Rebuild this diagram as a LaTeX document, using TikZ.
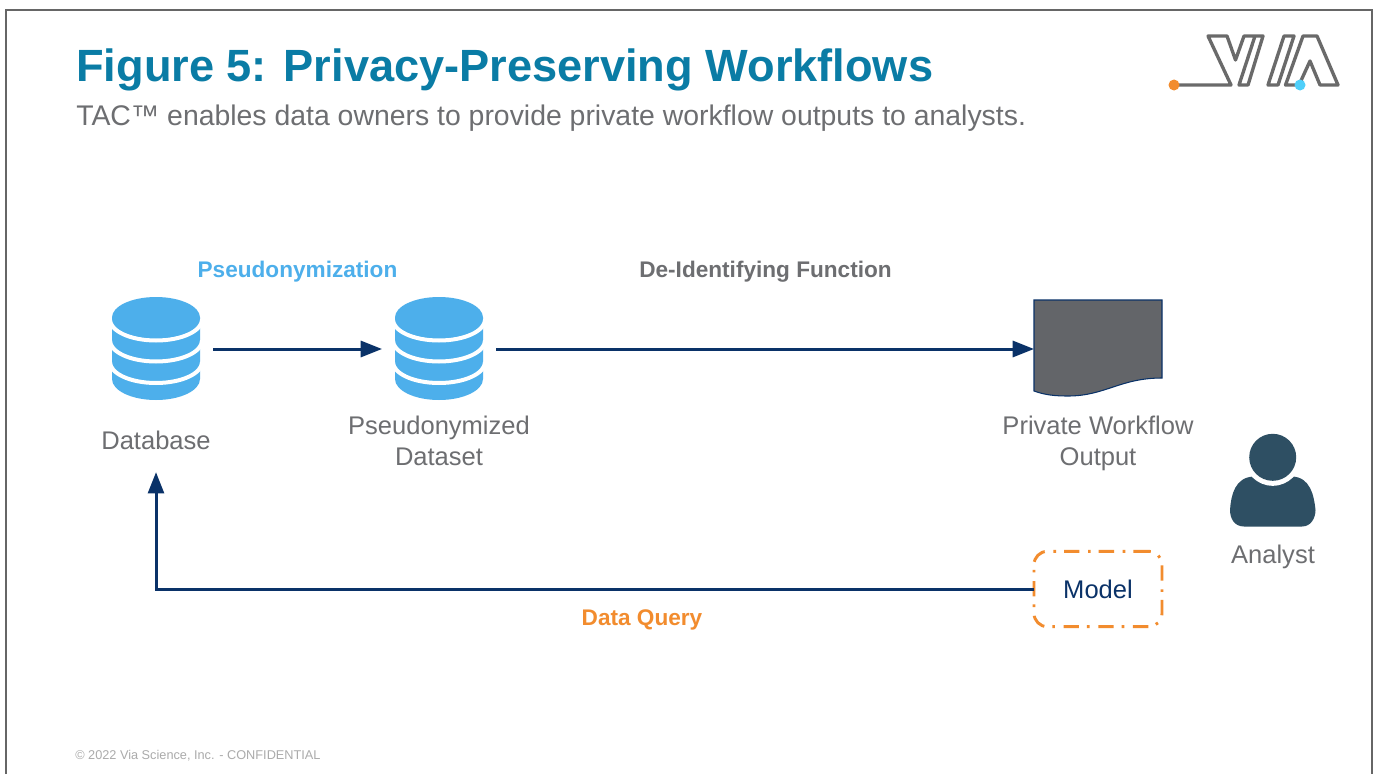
\documentclass[tikz,border=0pt]{standalone}
\usepackage{fontspec}
\setmainfont{Liberation Sans}
\definecolor{titleblue}{HTML}{0A7CA5}
\definecolor{subgray}{HTML}{6D6E71}
\definecolor{frameg}{HTML}{666666}
\definecolor{dbblue}{HTML}{4DAFEB}
\definecolor{navy}{HTML}{0A3268}
\definecolor{docgray}{HTML}{636569}
\definecolor{qorange}{HTML}{F28C2E}
\definecolor{personc}{HTML}{2E4F63}
\definecolor{logog}{HTML}{6A6A6A}
\definecolor{dotblue}{HTML}{4FCFFA}
\definecolor{footc}{HTML}{ABABAB}
\usetikzlibrary{arrows.meta}
\tikzset{
  x=0.75pt,y=-0.75pt,
  lab/.style={text=subgray,font=\fontsize{19.15pt}{23.2pt}\selectfont,align=center,inner sep=0},
  blab/.style={font=\fontsize{16.95pt}{20pt}\selectfont\bfseries,inner sep=0},
  flow/.style={draw=navy,line width=2.25pt,-{Triangle[length=16pt,width=12pt]}},
  iconbox/.style={minimum width=85.5pt,minimum height=78pt,inner sep=0,outer sep=0},
  logoline/.style={draw=logog,line width=2.5pt,line join=round},
}
\newcommand{\dbicon}[1]{%
  \begin{scope}[shift={(#1,0)}]
    \fill[dbblue] (-44,317.5) -- (-44,379) arc[start angle=180,end angle=0,x radius=44,y radius=21] -- (44,317.5) -- cycle;
    \foreach \cy in {319.5,340.5,362}{
      \draw[white,line width=3pt] (-46,\cy) arc[start angle=180,end angle=0,x radius=46,y radius=21];
    }
    \fill[dbblue] (0,317.5) ellipse[x radius=44,y radius=20.5];
  \end{scope}}
\begin{document}
\begin{tikzpicture}
\useasboundingbox (0,0) rectangle (1373,774);
\fill[white] (0,0) rectangle (1373,774);
\draw[frameg,line width=1.5pt] (6,774) -- (6,10.5) -- (1372,10.5) -- (1372,774);
\node[anchor=base west,inner sep=0,text=titleblue,font=\fontsize{33.88pt}{40pt}\selectfont\bfseries] (title) at (76,82) {Figure 5: Privacy-Preserving Workflows};
\node[anchor=base west,inner sep=0,text=subgray,font=\fontsize{21.3pt}{25pt}\selectfont] (sub) at (76,125) {TAC™ enables data owners to provide private workflow outputs to analysts.};
% logo
\path[logoline] (1174,85) -- (1231,85) -- (1208,36) -- (1227,36) -- (1235.5,60) -- (1244,36) -- (1263,36) -- (1248,85) -- (1239,85) -- (1255,36);
\path[logoline] (1268,85) -- (1284,36) -- (1294,36) -- (1278,85) -- cycle;
\path[logoline] (1299,85) -- (1285.5,85) -- (1303,36) -- (1317,36) -- (1338,85) -- (1320,85) -- (1310,61) -- cycle;
\fill[qorange] (1174,85) circle (5.5);
\fill[dotblue] (1300,85) circle (5.5);
% databases
\dbicon{156}
\dbicon{439}
\node[iconbox] (dba) at (156,349) {};
\node[iconbox] (dbb) at (439,349) {};
% document
\fill[docgray,draw=navy,line width=0.8pt] (1034,300) -- (1162,300) -- (1162,378) .. controls (1120,378) and (1105,396) .. (1068,396) .. controls (1055,396) and (1045,395) .. (1034,391) -- cycle;
\node[minimum width=96pt,minimum height=73.5pt,inner sep=0,outer sep=0] (doc) at (1098,349) {};
% person
\fill[personc] (1244,526.5) .. controls (1234,526.5) and (1230,518) .. (1230,510) .. controls (1231,495) and (1235,477) .. (1254,476.5) -- (1292,476.5) .. controls (1310,477) and (1314,495) .. (1315.5,510) .. controls (1315.5,518) and (1311,526.5) .. (1302,526.5) -- cycle;
\fill[white] (1272.7,457.3) circle (28.5);
\fill[personc] (1272.7,457.3) circle (23.5);
% labels
\node[lab] (dbl) at (156,440.5) {Database};
\node[lab] (dbbl) at (439,440.5) {Pseudonymized\\Dataset};
\node[lab] (docl) at (1098,443) {Private Workflow\\Output};
\node[lab] (anl) at (1273,557) {Analyst};
\node[blab,text=dbblue] (l1) at (297.5,272) {Pseudonymization};
\node[blab,text=subgray] (l2) at (765.5,272) {De-Identifying Function};
\node[blab,text=qorange] (l3) at (642,619.5) {Data Query};
% model
\node[draw=qorange,line width=2.2pt,rounded corners=10pt,dash pattern=on 11.5pt off 6pt on 2pt off 6.5pt,minimum width=96pt,minimum height=56.5pt,inner sep=0,text=navy,font=\fontsize{19.15pt}{22pt}\selectfont,outer sep=0] (model) at (1098,589) {Model};
% footer
\node[anchor=base west,inner sep=0,text=footc,font=\fontsize{9.55pt}{11pt}\selectfont] (foot) at (75,759) {© 2022 Via Science, Inc. - CONFIDENTIAL};
% connectors
\draw[flow] (dba) -- (dbb);
\draw[flow] (dbb) -- (doc);
\draw[flow,shorten >=16.5pt] (model.west) -| (dbl.south);
\end{tikzpicture}
\end{document}
